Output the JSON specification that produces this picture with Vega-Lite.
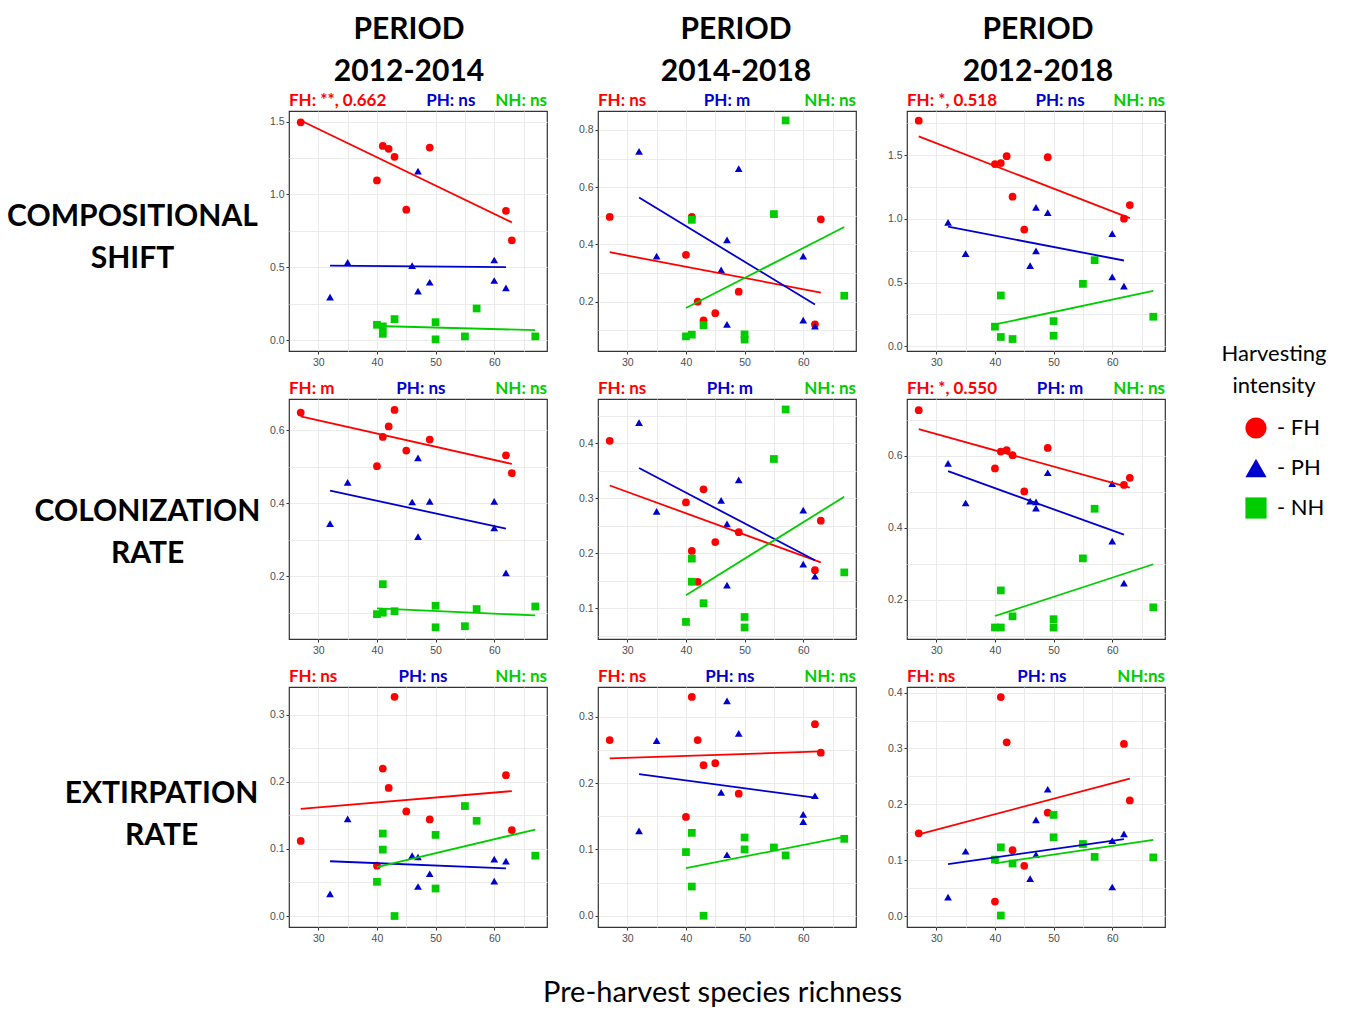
{
"$schema": "https://vega.github.io/schema/vega-lite/v6.json",
"padding": {"left": 5, "top": 14, "right": 5, "bottom": 5},
"bounds": "flush",
"columns": 3,
"spacing": {"row": 48, "column": 51},
"datasets": {
"pts": [
{"panel":"P11","grp":"FH","x":27,"y":1.495},{"panel":"P11","grp":"FH","x":40,"y":1.096},{"panel":"P11","grp":"FH","x":41,"y":1.333},{"panel":"P11","grp":"FH","x":42,"y":1.313},{"panel":"P11","grp":"FH","x":43,"y":1.258},{"panel":"P11","grp":"FH","x":45,"y":0.895},{"panel":"P11","grp":"FH","x":49,"y":1.322},{"panel":"P11","grp":"FH","x":62,"y":0.888},{"panel":"P11","grp":"FH","x":63,"y":0.685},
{"panel":"P11","grp":"PH","x":32,"y":0.295},{"panel":"P11","grp":"PH","x":35,"y":0.534},{"panel":"P11","grp":"PH","x":46,"y":0.511},{"panel":"P11","grp":"PH","x":47,"y":1.160},{"panel":"P11","grp":"PH","x":47,"y":0.336},{"panel":"P11","grp":"PH","x":49,"y":0.397},{"panel":"P11","grp":"PH","x":60,"y":0.550},{"panel":"P11","grp":"PH","x":60,"y":0.409},{"panel":"P11","grp":"PH","x":62,"y":0.358},
{"panel":"P11","grp":"NH","x":40,"y":0.105},{"panel":"P11","grp":"NH","x":41,"y":0.094},{"panel":"P11","grp":"NH","x":41,"y":0.043},{"panel":"P11","grp":"NH","x":43,"y":0.144},{"panel":"P11","grp":"NH","x":50,"y":0.123},{"panel":"P11","grp":"NH","x":50,"y":0.005},{"panel":"P11","grp":"NH","x":55,"y":0.025},{"panel":"P11","grp":"NH","x":57,"y":0.217},{"panel":"P11","grp":"NH","x":67,"y":0.025},
{"panel":"P12","grp":"FH","x":27,"y":0.496},{"panel":"P12","grp":"FH","x":40,"y":0.364},{"panel":"P12","grp":"FH","x":41,"y":0.496},{"panel":"P12","grp":"FH","x":42,"y":0.200},{"panel":"P12","grp":"FH","x":43,"y":0.135},{"panel":"P12","grp":"FH","x":45,"y":0.160},{"panel":"P12","grp":"FH","x":49,"y":0.235},{"panel":"P12","grp":"FH","x":62,"y":0.121},{"panel":"P12","grp":"FH","x":63,"y":0.488},
{"panel":"P12","grp":"PH","x":32,"y":0.725},{"panel":"P12","grp":"PH","x":35,"y":0.359},{"panel":"P12","grp":"PH","x":46,"y":0.311},{"panel":"P12","grp":"PH","x":47,"y":0.416},{"panel":"P12","grp":"PH","x":47,"y":0.121},{"panel":"P12","grp":"PH","x":49,"y":0.665},{"panel":"P12","grp":"PH","x":60,"y":0.359},{"panel":"P12","grp":"PH","x":60,"y":0.136},{"panel":"P12","grp":"PH","x":62,"y":0.115},
{"panel":"P12","grp":"NH","x":40,"y":0.079},{"panel":"P12","grp":"NH","x":41,"y":0.486},{"panel":"P12","grp":"NH","x":41,"y":0.085},{"panel":"P12","grp":"NH","x":43,"y":0.118},{"panel":"P12","grp":"NH","x":50,"y":0.086},{"panel":"P12","grp":"NH","x":50,"y":0.068},{"panel":"P12","grp":"NH","x":55,"y":0.506},{"panel":"P12","grp":"NH","x":57,"y":0.833},{"panel":"P12","grp":"NH","x":67,"y":0.221},
{"panel":"P13","grp":"FH","x":27,"y":1.771},{"panel":"P13","grp":"FH","x":40,"y":1.430},{"panel":"P13","grp":"FH","x":41,"y":1.438},{"panel":"P13","grp":"FH","x":42,"y":1.492},{"panel":"P13","grp":"FH","x":43,"y":1.174},{"panel":"P13","grp":"FH","x":45,"y":0.916},{"panel":"P13","grp":"FH","x":49,"y":1.484},{"panel":"P13","grp":"FH","x":62,"y":1.002},{"panel":"P13","grp":"FH","x":63,"y":1.109},
{"panel":"P13","grp":"PH","x":32,"y":0.973},{"panel":"P13","grp":"PH","x":35,"y":0.728},{"panel":"P13","grp":"PH","x":46,"y":0.634},{"panel":"P13","grp":"PH","x":47,"y":1.090},{"panel":"P13","grp":"PH","x":47,"y":0.749},{"panel":"P13","grp":"PH","x":49,"y":1.049},{"panel":"P13","grp":"PH","x":60,"y":0.884},{"panel":"P13","grp":"PH","x":60,"y":0.545},{"panel":"P13","grp":"PH","x":62,"y":0.472},
{"panel":"P13","grp":"NH","x":40,"y":0.154},{"panel":"P13","grp":"NH","x":41,"y":0.399},{"panel":"P13","grp":"NH","x":41,"y":0.073},{"panel":"P13","grp":"NH","x":43,"y":0.057},{"panel":"P13","grp":"NH","x":50,"y":0.198},{"panel":"P13","grp":"NH","x":50,"y":0.083},{"panel":"P13","grp":"NH","x":55,"y":0.490},{"panel":"P13","grp":"NH","x":57,"y":0.676},{"panel":"P13","grp":"NH","x":67,"y":0.232},
{"panel":"P21","grp":"FH","x":27,"y":0.648},{"panel":"P21","grp":"FH","x":40,"y":0.501},{"panel":"P21","grp":"FH","x":41,"y":0.581},{"panel":"P21","grp":"FH","x":42,"y":0.610},{"panel":"P21","grp":"FH","x":43,"y":0.655},{"panel":"P21","grp":"FH","x":45,"y":0.544},{"panel":"P21","grp":"FH","x":49,"y":0.574},{"panel":"P21","grp":"FH","x":62,"y":0.531},{"panel":"P21","grp":"FH","x":63,"y":0.482},
{"panel":"P21","grp":"PH","x":32,"y":0.344},{"panel":"P21","grp":"PH","x":35,"y":0.457},{"panel":"P21","grp":"PH","x":46,"y":0.403},{"panel":"P21","grp":"PH","x":47,"y":0.524},{"panel":"P21","grp":"PH","x":47,"y":0.308},{"panel":"P21","grp":"PH","x":49,"y":0.405},{"panel":"P21","grp":"PH","x":60,"y":0.405},{"panel":"P21","grp":"PH","x":60,"y":0.332},{"panel":"P21","grp":"PH","x":62,"y":0.209},
{"panel":"P21","grp":"NH","x":40,"y":0.096},{"panel":"P21","grp":"NH","x":41,"y":0.178},{"panel":"P21","grp":"NH","x":41,"y":0.100},{"panel":"P21","grp":"NH","x":43,"y":0.104},{"panel":"P21","grp":"NH","x":50,"y":0.119},{"panel":"P21","grp":"NH","x":50,"y":0.060},{"panel":"P21","grp":"NH","x":55,"y":0.063},{"panel":"P21","grp":"NH","x":57,"y":0.110},{"panel":"P21","grp":"NH","x":67,"y":0.117},
{"panel":"P22","grp":"FH","x":27,"y":0.404},{"panel":"P22","grp":"FH","x":40,"y":0.292},{"panel":"P22","grp":"FH","x":41,"y":0.204},{"panel":"P22","grp":"FH","x":42,"y":0.148},{"panel":"P22","grp":"FH","x":43,"y":0.316},{"panel":"P22","grp":"FH","x":45,"y":0.220},{"panel":"P22","grp":"FH","x":49,"y":0.238},{"panel":"P22","grp":"FH","x":62,"y":0.169},{"panel":"P22","grp":"FH","x":63,"y":0.259},
{"panel":"P22","grp":"PH","x":32,"y":0.437},{"panel":"P22","grp":"PH","x":35,"y":0.276},{"panel":"P22","grp":"PH","x":46,"y":0.296},{"panel":"P22","grp":"PH","x":47,"y":0.253},{"panel":"P22","grp":"PH","x":47,"y":0.142},{"panel":"P22","grp":"PH","x":49,"y":0.333},{"panel":"P22","grp":"PH","x":60,"y":0.278},{"panel":"P22","grp":"PH","x":60,"y":0.180},{"panel":"P22","grp":"PH","x":62,"y":0.158},
{"panel":"P22","grp":"NH","x":40,"y":0.075},{"panel":"P22","grp":"NH","x":41,"y":0.190},{"panel":"P22","grp":"NH","x":41,"y":0.148},{"panel":"P22","grp":"NH","x":43,"y":0.109},{"panel":"P22","grp":"NH","x":50,"y":0.084},{"panel":"P22","grp":"NH","x":50,"y":0.065},{"panel":"P22","grp":"NH","x":55,"y":0.371},{"panel":"P22","grp":"NH","x":57,"y":0.461},{"panel":"P22","grp":"NH","x":67,"y":0.165},
{"panel":"P23","grp":"FH","x":27,"y":0.727},{"panel":"P23","grp":"FH","x":40,"y":0.565},{"panel":"P23","grp":"FH","x":41,"y":0.612},{"panel":"P23","grp":"FH","x":42,"y":0.616},{"panel":"P23","grp":"FH","x":43,"y":0.602},{"panel":"P23","grp":"FH","x":45,"y":0.501},{"panel":"P23","grp":"FH","x":49,"y":0.622},{"panel":"P23","grp":"FH","x":62,"y":0.519},{"panel":"P23","grp":"FH","x":63,"y":0.539},
{"panel":"P23","grp":"PH","x":32,"y":0.579},{"panel":"P23","grp":"PH","x":35,"y":0.469},{"panel":"P23","grp":"PH","x":46,"y":0.474},{"panel":"P23","grp":"PH","x":47,"y":0.472},{"panel":"P23","grp":"PH","x":47,"y":0.455},{"panel":"P23","grp":"PH","x":49,"y":0.553},{"panel":"P23","grp":"PH","x":60,"y":0.523},{"panel":"P23","grp":"PH","x":60,"y":0.363},{"panel":"P23","grp":"PH","x":62,"y":0.246},
{"panel":"P23","grp":"NH","x":40,"y":0.123},{"panel":"P23","grp":"NH","x":41,"y":0.226},{"panel":"P23","grp":"NH","x":41,"y":0.123},{"panel":"P23","grp":"NH","x":43,"y":0.154},{"panel":"P23","grp":"NH","x":50,"y":0.146},{"panel":"P23","grp":"NH","x":50,"y":0.123},{"panel":"P23","grp":"NH","x":55,"y":0.315},{"panel":"P23","grp":"NH","x":57,"y":0.453},{"panel":"P23","grp":"NH","x":67,"y":0.179},
{"panel":"P31","grp":"FH","x":27,"y":0.112},{"panel":"P31","grp":"FH","x":40,"y":0.075},{"panel":"P31","grp":"FH","x":41,"y":0.220},{"panel":"P31","grp":"FH","x":42,"y":0.191},{"panel":"P31","grp":"FH","x":43,"y":0.327},{"panel":"P31","grp":"FH","x":45,"y":0.156},{"panel":"P31","grp":"FH","x":49,"y":0.144},{"panel":"P31","grp":"FH","x":62,"y":0.210},{"panel":"P31","grp":"FH","x":63,"y":0.128},
{"panel":"P31","grp":"PH","x":32,"y":0.033},{"panel":"P31","grp":"PH","x":35,"y":0.145},{"panel":"P31","grp":"PH","x":46,"y":0.090},{"panel":"P31","grp":"PH","x":47,"y":0.088},{"panel":"P31","grp":"PH","x":47,"y":0.044},{"panel":"P31","grp":"PH","x":49,"y":0.063},{"panel":"P31","grp":"PH","x":60,"y":0.085},{"panel":"P31","grp":"PH","x":60,"y":0.052},{"panel":"P31","grp":"PH","x":62,"y":0.082},
{"panel":"P31","grp":"NH","x":40,"y":0.051},{"panel":"P31","grp":"NH","x":41,"y":0.123},{"panel":"P31","grp":"NH","x":41,"y":0.099},{"panel":"P31","grp":"NH","x":43,"y":0.000},{"panel":"P31","grp":"NH","x":50,"y":0.121},{"panel":"P31","grp":"NH","x":50,"y":0.041},{"panel":"P31","grp":"NH","x":55,"y":0.164},{"panel":"P31","grp":"NH","x":57,"y":0.142},{"panel":"P31","grp":"NH","x":67,"y":0.090},
{"panel":"P32","grp":"FH","x":27,"y":0.265},{"panel":"P32","grp":"FH","x":40,"y":0.149},{"panel":"P32","grp":"FH","x":41,"y":0.330},{"panel":"P32","grp":"FH","x":42,"y":0.265},{"panel":"P32","grp":"FH","x":43,"y":0.227},{"panel":"P32","grp":"FH","x":45,"y":0.230},{"panel":"P32","grp":"FH","x":49,"y":0.184},{"panel":"P32","grp":"FH","x":62,"y":0.289},{"panel":"P32","grp":"FH","x":63,"y":0.246},
{"panel":"P32","grp":"PH","x":32,"y":0.128},{"panel":"P32","grp":"PH","x":35,"y":0.264},{"panel":"P32","grp":"PH","x":46,"y":0.186},{"panel":"P32","grp":"PH","x":47,"y":0.324},{"panel":"P32","grp":"PH","x":47,"y":0.092},{"panel":"P32","grp":"PH","x":49,"y":0.275},{"panel":"P32","grp":"PH","x":60,"y":0.153},{"panel":"P32","grp":"PH","x":60,"y":0.142},{"panel":"P32","grp":"PH","x":62,"y":0.181},
{"panel":"P32","grp":"NH","x":40,"y":0.096},{"panel":"P32","grp":"NH","x":41,"y":0.125},{"panel":"P32","grp":"NH","x":41,"y":0.044},{"panel":"P32","grp":"NH","x":43,"y":0.000},{"panel":"P32","grp":"NH","x":50,"y":0.118},{"panel":"P32","grp":"NH","x":50,"y":0.100},{"panel":"P32","grp":"NH","x":55,"y":0.103},{"panel":"P32","grp":"NH","x":57,"y":0.091},{"panel":"P32","grp":"NH","x":67,"y":0.116},
{"panel":"P33","grp":"FH","x":27,"y":0.148},{"panel":"P33","grp":"FH","x":40,"y":0.026},{"panel":"P33","grp":"FH","x":41,"y":0.392},{"panel":"P33","grp":"FH","x":42,"y":0.311},{"panel":"P33","grp":"FH","x":43,"y":0.118},{"panel":"P33","grp":"FH","x":45,"y":0.090},{"panel":"P33","grp":"FH","x":49,"y":0.185},{"panel":"P33","grp":"FH","x":62,"y":0.308},{"panel":"P33","grp":"FH","x":63,"y":0.207},
{"panel":"P33","grp":"PH","x":32,"y":0.034},{"panel":"P33","grp":"PH","x":35,"y":0.116},{"panel":"P33","grp":"PH","x":46,"y":0.067},{"panel":"P33","grp":"PH","x":47,"y":0.172},{"panel":"P33","grp":"PH","x":47,"y":0.110},{"panel":"P33","grp":"PH","x":49,"y":0.227},{"panel":"P33","grp":"PH","x":60,"y":0.135},{"panel":"P33","grp":"PH","x":60,"y":0.052},{"panel":"P33","grp":"PH","x":62,"y":0.147},
{"panel":"P33","grp":"NH","x":40,"y":0.101},{"panel":"P33","grp":"NH","x":41,"y":0.123},{"panel":"P33","grp":"NH","x":41,"y":0.001},{"panel":"P33","grp":"NH","x":43,"y":0.094},{"panel":"P33","grp":"NH","x":50,"y":0.181},{"panel":"P33","grp":"NH","x":50,"y":0.141},{"panel":"P33","grp":"NH","x":55,"y":0.129},{"panel":"P33","grp":"NH","x":57,"y":0.106},{"panel":"P33","grp":"NH","x":67,"y":0.105}
],
"notes": [
{"panel":"P11","grp":"FH","label":"FH: **, 0.662"},{"panel":"P11","grp":"PH","label":"PH: ns"},{"panel":"P11","grp":"NH","label":"NH: ns"},
{"panel":"P12","grp":"FH","label":"FH: ns"},{"panel":"P12","grp":"PH","label":"PH: m"},{"panel":"P12","grp":"NH","label":"NH: ns"},
{"panel":"P13","grp":"FH","label":"FH: *, 0.518"},{"panel":"P13","grp":"PH","label":"PH: ns"},{"panel":"P13","grp":"NH","label":"NH: ns"},
{"panel":"P21","grp":"FH","label":"FH: m"},{"panel":"P21","grp":"PH","label":"PH: ns"},{"panel":"P21","grp":"NH","label":"NH: ns"},
{"panel":"P22","grp":"FH","label":"FH: ns"},{"panel":"P22","grp":"PH","label":"PH: m"},{"panel":"P22","grp":"NH","label":"NH: ns"},
{"panel":"P23","grp":"FH","label":"FH: *, 0.550"},{"panel":"P23","grp":"PH","label":"PH: m"},{"panel":"P23","grp":"NH","label":"NH: ns"},
{"panel":"P31","grp":"FH","label":"FH: ns"},{"panel":"P31","grp":"PH","label":"PH: ns"},{"panel":"P31","grp":"NH","label":"NH: ns"},
{"panel":"P32","grp":"FH","label":"FH: ns"},{"panel":"P32","grp":"PH","label":"PH: ns"},{"panel":"P32","grp":"NH","label":"NH: ns"},
{"panel":"P33","grp":"FH","label":"FH: ns"},{"panel":"P33","grp":"PH","label":"PH: ns"},{"panel":"P33","grp":"NH","label":"NH:ns"}
]
},
"concat": [
{"width":258,"height":240,
 "title":{"text":["PERIOD","2012-2014"],"dx":-9},
 "resolve":{"axis":{"x":"independent","y":"independent"}},
 "layer":[
  {"data":{"name":"pts"},"transform":[{"filter":"datum.panel=='P11'"}],"mark":{"type":"point","filled":true,"opacity":1,"strokeWidth":0,"size":60},
   "encoding":{"x":{"field":"x","type":"quantitative","scale":{"domain":[25,69],"nice":false,"zero":false},"axis":{"values":[30,40,50,60],"title":null}},
    "y":{"field":"y","type":"quantitative","scale":{"domain":[-0.075,1.573],"nice":false,"zero":false},"axis":{"values":[0,0.5,1,1.5],"format":".1f","title":["COMPOSITIONAL","SHIFT"],"titleX":-157,"titleY":105}},
    "color":{"field":"grp","type":"nominal","title":["Harvesting","intensity"],"scale":{"domain":["FH","PH","NH"],"range":["#FF0000","#0000CD","#00CD00"]},"legend":{"orient":"none","legendX":933,"legendY":233,"direction":"vertical","labelExpr":"'- ' + datum.label"}},
    "shape":{"field":"grp","type":"nominal","title":["Harvesting","intensity"],"scale":{"domain":["FH","PH","NH"],"range":["circle","triangle-up","square"]},"legend":{"orient":"none","legendX":933,"legendY":233,"direction":"vertical","labelExpr":"'- ' + datum.label"}}}},
  {"data":{"name":"pts"},"transform":[{"filter":"datum.panel=='P11'"},{"regression":"y","on":"x","groupby":["grp"]}],"mark":{"type":"line","strokeWidth":1.8},
   "encoding":{"x":{"field":"x","type":"quantitative","axis":{"values":[35,45,55,65],"orient":"bottom","labels":false,"ticks":false,"grid":true,"title":null}},"y":{"field":"y","type":"quantitative","axis":{"values":[0.25,0.75,1.25],"orient":"left","labels":false,"ticks":false,"grid":true,"title":null}},"color":{"field":"grp","type":"nominal","legend":null}}},
  {"data":{"name":"notes"},"transform":[{"filter":"datum.panel=='P11' && datum.grp=='FH'"}],"mark":{"type":"text","align":"left","baseline":"alphabetic","dy":-5,"font":"Lato","fontSize":17,"fontWeight":"bold","color":"#FF0000"},"encoding":{"x":{"datum":25,"type":"quantitative","axis":null},"y":{"datum":1.573,"type":"quantitative","axis":null},"text":{"field":"label","type":"nominal"}}},
  {"data":{"name":"notes"},"transform":[{"filter":"datum.panel=='P11' && datum.grp=='PH'"}],"mark":{"type":"text","align":"center","baseline":"alphabetic","dy":-5,"font":"Lato","fontSize":17,"fontWeight":"bold","color":"#0000CD"},"encoding":{"x":{"datum":52.6,"type":"quantitative","axis":null},"y":{"datum":1.573,"type":"quantitative","axis":null},"text":{"field":"label","type":"nominal"}}},
  {"data":{"name":"notes"},"transform":[{"filter":"datum.panel=='P11' && datum.grp=='NH'"}],"mark":{"type":"text","align":"right","baseline":"alphabetic","dy":-5,"font":"Lato","fontSize":17,"fontWeight":"bold","color":"#00CD00"},"encoding":{"x":{"datum":69,"type":"quantitative","axis":null},"y":{"datum":1.573,"type":"quantitative","axis":null},"text":{"field":"label","type":"nominal"}}}
 ]},
{"width":258,"height":240,
 "title":{"text":["PERIOD","2014-2018"],"dx":9},
 "resolve":{"axis":{"x":"independent","y":"independent"}},
 "layer":[
  {"data":{"name":"pts"},"transform":[{"filter":"datum.panel=='P12'"}],"mark":{"type":"point","filled":true,"opacity":1,"strokeWidth":0,"size":60},
   "encoding":{"x":{"field":"x","type":"quantitative","scale":{"domain":[25,69],"nice":false,"zero":false},"axis":{"values":[30,40,50,60],"title":null}},
    "y":{"field":"y","type":"quantitative","scale":{"domain":[0.028,0.866],"nice":false,"zero":false},"axis":{"values":[0.2,0.4,0.6,0.8],"format":".1f","title":null}},
    "color":{"field":"grp","type":"nominal","title":["Harvesting","intensity"]},
    "shape":{"field":"grp","type":"nominal","title":["Harvesting","intensity"]}}},
  {"data":{"name":"pts"},"transform":[{"filter":"datum.panel=='P12'"},{"regression":"y","on":"x","groupby":["grp"]}],"mark":{"type":"line","strokeWidth":1.8},
   "encoding":{"x":{"field":"x","type":"quantitative","axis":{"values":[35,45,55,65],"orient":"bottom","labels":false,"ticks":false,"grid":true,"title":null}},"y":{"field":"y","type":"quantitative","axis":{"values":[0.1,0.3,0.5,0.7],"orient":"left","labels":false,"ticks":false,"grid":true,"title":null}},"color":{"field":"grp","type":"nominal","legend":null}}},
  {"data":{"name":"notes"},"transform":[{"filter":"datum.panel=='P12' && datum.grp=='FH'"}],"mark":{"type":"text","align":"left","baseline":"alphabetic","dy":-5,"font":"Lato","fontSize":17,"fontWeight":"bold","color":"#FF0000"},"encoding":{"x":{"datum":25,"type":"quantitative","axis":null},"y":{"datum":0.866,"type":"quantitative","axis":null},"text":{"field":"label","type":"nominal"}}},
  {"data":{"name":"notes"},"transform":[{"filter":"datum.panel=='P12' && datum.grp=='PH'"}],"mark":{"type":"text","align":"center","baseline":"alphabetic","dy":-5,"font":"Lato","fontSize":17,"fontWeight":"bold","color":"#0000CD"},"encoding":{"x":{"datum":47.0,"type":"quantitative","axis":null},"y":{"datum":0.866,"type":"quantitative","axis":null},"text":{"field":"label","type":"nominal"}}},
  {"data":{"name":"notes"},"transform":[{"filter":"datum.panel=='P12' && datum.grp=='NH'"}],"mark":{"type":"text","align":"right","baseline":"alphabetic","dy":-5,"font":"Lato","fontSize":17,"fontWeight":"bold","color":"#00CD00"},"encoding":{"x":{"datum":69,"type":"quantitative","axis":null},"y":{"datum":0.866,"type":"quantitative","axis":null},"text":{"field":"label","type":"nominal"}}}
 ]},
{"width":258,"height":240,
 "title":{"text":["PERIOD","2012-2018"],"dx":2},
 "resolve":{"axis":{"x":"independent","y":"independent"}},
 "layer":[
  {"data":{"name":"pts"},"transform":[{"filter":"datum.panel=='P13'"}],"mark":{"type":"point","filled":true,"opacity":1,"strokeWidth":0,"size":60},
   "encoding":{"x":{"field":"x","type":"quantitative","scale":{"domain":[25,69],"nice":false,"zero":false},"axis":{"values":[30,40,50,60],"title":null}},
    "y":{"field":"y","type":"quantitative","scale":{"domain":[-0.037,1.847],"nice":false,"zero":false},"axis":{"values":[0,0.5,1,1.5],"format":".1f","title":null}},
    "color":{"field":"grp","type":"nominal","title":["Harvesting","intensity"]},
    "shape":{"field":"grp","type":"nominal","title":["Harvesting","intensity"]}}},
  {"data":{"name":"pts"},"transform":[{"filter":"datum.panel=='P13'"},{"regression":"y","on":"x","groupby":["grp"]}],"mark":{"type":"line","strokeWidth":1.8},
   "encoding":{"x":{"field":"x","type":"quantitative","axis":{"values":[35,45,55,65],"orient":"bottom","labels":false,"ticks":false,"grid":true,"title":null}},"y":{"field":"y","type":"quantitative","axis":{"values":[0.25,0.75,1.25,1.75],"orient":"left","labels":false,"ticks":false,"grid":true,"title":null}},"color":{"field":"grp","type":"nominal","legend":null}}},
  {"data":{"name":"notes"},"transform":[{"filter":"datum.panel=='P13' && datum.grp=='FH'"}],"mark":{"type":"text","align":"left","baseline":"alphabetic","dy":-5,"font":"Lato","fontSize":17,"fontWeight":"bold","color":"#FF0000"},"encoding":{"x":{"datum":25,"type":"quantitative","axis":null},"y":{"datum":1.847,"type":"quantitative","axis":null},"text":{"field":"label","type":"nominal"}}},
  {"data":{"name":"notes"},"transform":[{"filter":"datum.panel=='P13' && datum.grp=='PH'"}],"mark":{"type":"text","align":"center","baseline":"alphabetic","dy":-5,"font":"Lato","fontSize":17,"fontWeight":"bold","color":"#0000CD"},"encoding":{"x":{"datum":51.1,"type":"quantitative","axis":null},"y":{"datum":1.847,"type":"quantitative","axis":null},"text":{"field":"label","type":"nominal"}}},
  {"data":{"name":"notes"},"transform":[{"filter":"datum.panel=='P13' && datum.grp=='NH'"}],"mark":{"type":"text","align":"right","baseline":"alphabetic","dy":-5,"font":"Lato","fontSize":17,"fontWeight":"bold","color":"#00CD00"},"encoding":{"x":{"datum":69,"type":"quantitative","axis":null},"y":{"datum":1.847,"type":"quantitative","axis":null},"text":{"field":"label","type":"nominal"}}}
 ]},
{"width":258,"height":240,
 "resolve":{"axis":{"x":"independent","y":"independent"}},
 "layer":[
  {"data":{"name":"pts"},"transform":[{"filter":"datum.panel=='P21'"}],"mark":{"type":"point","filled":true,"opacity":1,"strokeWidth":0,"size":60},
   "encoding":{"x":{"field":"x","type":"quantitative","scale":{"domain":[25,69],"nice":false,"zero":false},"axis":{"values":[30,40,50,60],"title":null}},
    "y":{"field":"y","type":"quantitative","scale":{"domain":[0.028,0.685],"nice":false,"zero":false},"axis":{"values":[0.2,0.4,0.6],"format":".1f","title":["COLONIZATION","RATE"],"titleX":-142,"titleY":112}},
    "color":{"field":"grp","type":"nominal","title":["Harvesting","intensity"]},
    "shape":{"field":"grp","type":"nominal","title":["Harvesting","intensity"]}}},
  {"data":{"name":"pts"},"transform":[{"filter":"datum.panel=='P21'"},{"regression":"y","on":"x","groupby":["grp"]}],"mark":{"type":"line","strokeWidth":1.8},
   "encoding":{"x":{"field":"x","type":"quantitative","axis":{"values":[35,45,55,65],"orient":"bottom","labels":false,"ticks":false,"grid":true,"title":null}},"y":{"field":"y","type":"quantitative","axis":{"values":[0.1,0.3,0.5],"orient":"left","labels":false,"ticks":false,"grid":true,"title":null}},"color":{"field":"grp","type":"nominal","legend":null}}},
  {"data":{"name":"notes"},"transform":[{"filter":"datum.panel=='P21' && datum.grp=='FH'"}],"mark":{"type":"text","align":"left","baseline":"alphabetic","dy":-5,"font":"Lato","fontSize":17,"fontWeight":"bold","color":"#FF0000"},"encoding":{"x":{"datum":25,"type":"quantitative","axis":null},"y":{"datum":0.685,"type":"quantitative","axis":null},"text":{"field":"label","type":"nominal"}}},
  {"data":{"name":"notes"},"transform":[{"filter":"datum.panel=='P21' && datum.grp=='PH'"}],"mark":{"type":"text","align":"center","baseline":"alphabetic","dy":-5,"font":"Lato","fontSize":17,"fontWeight":"bold","color":"#0000CD"},"encoding":{"x":{"datum":47.5,"type":"quantitative","axis":null},"y":{"datum":0.685,"type":"quantitative","axis":null},"text":{"field":"label","type":"nominal"}}},
  {"data":{"name":"notes"},"transform":[{"filter":"datum.panel=='P21' && datum.grp=='NH'"}],"mark":{"type":"text","align":"right","baseline":"alphabetic","dy":-5,"font":"Lato","fontSize":17,"fontWeight":"bold","color":"#00CD00"},"encoding":{"x":{"datum":69,"type":"quantitative","axis":null},"y":{"datum":0.685,"type":"quantitative","axis":null},"text":{"field":"label","type":"nominal"}}}
 ]},
{"width":258,"height":240,
 "resolve":{"axis":{"x":"independent","y":"independent"}},
 "layer":[
  {"data":{"name":"pts"},"transform":[{"filter":"datum.panel=='P22'"}],"mark":{"type":"point","filled":true,"opacity":1,"strokeWidth":0,"size":60},
   "encoding":{"x":{"field":"x","type":"quantitative","scale":{"domain":[25,69],"nice":false,"zero":false},"axis":{"values":[30,40,50,60],"title":null}},
    "y":{"field":"y","type":"quantitative","scale":{"domain":[0.044,0.480],"nice":false,"zero":false},"axis":{"values":[0.1,0.2,0.3,0.4],"format":".1f","title":null}},
    "color":{"field":"grp","type":"nominal","title":["Harvesting","intensity"]},
    "shape":{"field":"grp","type":"nominal","title":["Harvesting","intensity"]}}},
  {"data":{"name":"pts"},"transform":[{"filter":"datum.panel=='P22'"},{"regression":"y","on":"x","groupby":["grp"]}],"mark":{"type":"line","strokeWidth":1.8},
   "encoding":{"x":{"field":"x","type":"quantitative","axis":{"values":[35,45,55,65],"orient":"bottom","labels":false,"ticks":false,"grid":true,"title":null}},"y":{"field":"y","type":"quantitative","axis":{"values":[0.05,0.15,0.25,0.35,0.45],"orient":"left","labels":false,"ticks":false,"grid":true,"title":null}},"color":{"field":"grp","type":"nominal","legend":null}}},
  {"data":{"name":"notes"},"transform":[{"filter":"datum.panel=='P22' && datum.grp=='FH'"}],"mark":{"type":"text","align":"left","baseline":"alphabetic","dy":-5,"font":"Lato","fontSize":17,"fontWeight":"bold","color":"#FF0000"},"encoding":{"x":{"datum":25,"type":"quantitative","axis":null},"y":{"datum":0.480,"type":"quantitative","axis":null},"text":{"field":"label","type":"nominal"}}},
  {"data":{"name":"notes"},"transform":[{"filter":"datum.panel=='P22' && datum.grp=='PH'"}],"mark":{"type":"text","align":"center","baseline":"alphabetic","dy":-5,"font":"Lato","fontSize":17,"fontWeight":"bold","color":"#0000CD"},"encoding":{"x":{"datum":47.5,"type":"quantitative","axis":null},"y":{"datum":0.480,"type":"quantitative","axis":null},"text":{"field":"label","type":"nominal"}}},
  {"data":{"name":"notes"},"transform":[{"filter":"datum.panel=='P22' && datum.grp=='NH'"}],"mark":{"type":"text","align":"right","baseline":"alphabetic","dy":-5,"font":"Lato","fontSize":17,"fontWeight":"bold","color":"#00CD00"},"encoding":{"x":{"datum":69,"type":"quantitative","axis":null},"y":{"datum":0.480,"type":"quantitative","axis":null},"text":{"field":"label","type":"nominal"}}}
 ]},
{"width":258,"height":240,
 "resolve":{"axis":{"x":"independent","y":"independent"}},
 "layer":[
  {"data":{"name":"pts"},"transform":[{"filter":"datum.panel=='P23'"}],"mark":{"type":"point","filled":true,"opacity":1,"strokeWidth":0,"size":60},
   "encoding":{"x":{"field":"x","type":"quantitative","scale":{"domain":[25,69],"nice":false,"zero":false},"axis":{"values":[30,40,50,60],"title":null}},
    "y":{"field":"y","type":"quantitative","scale":{"domain":[0.091,0.758],"nice":false,"zero":false},"axis":{"values":[0.2,0.4,0.6],"format":".1f","title":null}},
    "color":{"field":"grp","type":"nominal","title":["Harvesting","intensity"]},
    "shape":{"field":"grp","type":"nominal","title":["Harvesting","intensity"]}}},
  {"data":{"name":"pts"},"transform":[{"filter":"datum.panel=='P23'"},{"regression":"y","on":"x","groupby":["grp"]}],"mark":{"type":"line","strokeWidth":1.8},
   "encoding":{"x":{"field":"x","type":"quantitative","axis":{"values":[35,45,55,65],"orient":"bottom","labels":false,"ticks":false,"grid":true,"title":null}},"y":{"field":"y","type":"quantitative","axis":{"values":[0.1,0.3,0.5,0.7],"orient":"left","labels":false,"ticks":false,"grid":true,"title":null}},"color":{"field":"grp","type":"nominal","legend":null}}},
  {"data":{"name":"notes"},"transform":[{"filter":"datum.panel=='P23' && datum.grp=='FH'"}],"mark":{"type":"text","align":"left","baseline":"alphabetic","dy":-5,"font":"Lato","fontSize":17,"fontWeight":"bold","color":"#FF0000"},"encoding":{"x":{"datum":25,"type":"quantitative","axis":null},"y":{"datum":0.758,"type":"quantitative","axis":null},"text":{"field":"label","type":"nominal"}}},
  {"data":{"name":"notes"},"transform":[{"filter":"datum.panel=='P23' && datum.grp=='PH'"}],"mark":{"type":"text","align":"center","baseline":"alphabetic","dy":-5,"font":"Lato","fontSize":17,"fontWeight":"bold","color":"#0000CD"},"encoding":{"x":{"datum":51.1,"type":"quantitative","axis":null},"y":{"datum":0.758,"type":"quantitative","axis":null},"text":{"field":"label","type":"nominal"}}},
  {"data":{"name":"notes"},"transform":[{"filter":"datum.panel=='P23' && datum.grp=='NH'"}],"mark":{"type":"text","align":"right","baseline":"alphabetic","dy":-5,"font":"Lato","fontSize":17,"fontWeight":"bold","color":"#00CD00"},"encoding":{"x":{"datum":69,"type":"quantitative","axis":null},"y":{"datum":0.758,"type":"quantitative","axis":null},"text":{"field":"label","type":"nominal"}}}
 ]},
{"width":258,"height":240,
 "resolve":{"axis":{"x":"independent","y":"independent"}},
 "layer":[
  {"data":{"name":"pts"},"transform":[{"filter":"datum.panel=='P31'"}],"mark":{"type":"point","filled":true,"opacity":1,"strokeWidth":0,"size":60},
   "encoding":{"x":{"field":"x","type":"quantitative","scale":{"domain":[25,69],"nice":false,"zero":false},"axis":{"values":[30,40,50,60],"title":null}},
    "y":{"field":"y","type":"quantitative","scale":{"domain":[-0.0164,0.3416],"nice":false,"zero":false},"axis":{"values":[0,0.1,0.2,0.3],"format":".1f","title":["EXTIRPATION","RATE"],"titleX":-128,"titleY":106}},
    "color":{"field":"grp","type":"nominal","title":["Harvesting","intensity"]},
    "shape":{"field":"grp","type":"nominal","title":["Harvesting","intensity"]}}},
  {"data":{"name":"pts"},"transform":[{"filter":"datum.panel=='P31'"},{"regression":"y","on":"x","groupby":["grp"]}],"mark":{"type":"line","strokeWidth":1.8},
   "encoding":{"x":{"field":"x","type":"quantitative","axis":{"values":[35,45,55,65],"orient":"bottom","labels":false,"ticks":false,"grid":true,"title":null}},"y":{"field":"y","type":"quantitative","axis":{"values":[0.05,0.15,0.25],"orient":"left","labels":false,"ticks":false,"grid":true,"title":null}},"color":{"field":"grp","type":"nominal","legend":null}}},
  {"data":{"name":"notes"},"transform":[{"filter":"datum.panel=='P31' && datum.grp=='FH'"}],"mark":{"type":"text","align":"left","baseline":"alphabetic","dy":-5,"font":"Lato","fontSize":17,"fontWeight":"bold","color":"#FF0000"},"encoding":{"x":{"datum":25,"type":"quantitative","axis":null},"y":{"datum":0.3416,"type":"quantitative","axis":null},"text":{"field":"label","type":"nominal"}}},
  {"data":{"name":"notes"},"transform":[{"filter":"datum.panel=='P31' && datum.grp=='PH'"}],"mark":{"type":"text","align":"center","baseline":"alphabetic","dy":-5,"font":"Lato","fontSize":17,"fontWeight":"bold","color":"#0000CD"},"encoding":{"x":{"datum":47.85,"type":"quantitative","axis":null},"y":{"datum":0.3416,"type":"quantitative","axis":null},"text":{"field":"label","type":"nominal"}}},
  {"data":{"name":"notes"},"transform":[{"filter":"datum.panel=='P31' && datum.grp=='NH'"}],"mark":{"type":"text","align":"right","baseline":"alphabetic","dy":-5,"font":"Lato","fontSize":17,"fontWeight":"bold","color":"#00CD00"},"encoding":{"x":{"datum":69,"type":"quantitative","axis":null},"y":{"datum":0.3416,"type":"quantitative","axis":null},"text":{"field":"label","type":"nominal"}}}
 ]},
{"width":258,"height":240,
 "resolve":{"axis":{"x":"independent","y":"independent"}},
 "layer":[
  {"data":{"name":"pts"},"transform":[{"filter":"datum.panel=='P32'"}],"mark":{"type":"point","filled":true,"opacity":1,"strokeWidth":0,"size":60},
   "encoding":{"x":{"field":"x","type":"quantitative","scale":{"domain":[25,69],"nice":false,"zero":false},"axis":{"values":[30,40,50,60],"title":"Pre-harvest species richness","titleX":124,"titleY":65,"titleAlign":"center","titleBaseline":"middle","titleFont":"Lato","titleFontSize":29,"titleFontWeight":"normal","titleColor":"#000000"}},
    "y":{"field":"y","type":"quantitative","scale":{"domain":[-0.017,0.345],"nice":false,"zero":false},"axis":{"values":[0,0.1,0.2,0.3],"format":".1f","title":null}},
    "color":{"field":"grp","type":"nominal","title":["Harvesting","intensity"]},
    "shape":{"field":"grp","type":"nominal","title":["Harvesting","intensity"]}}},
  {"data":{"name":"pts"},"transform":[{"filter":"datum.panel=='P32'"},{"regression":"y","on":"x","groupby":["grp"]}],"mark":{"type":"line","strokeWidth":1.8},
   "encoding":{"x":{"field":"x","type":"quantitative","axis":{"values":[35,45,55,65],"orient":"bottom","labels":false,"ticks":false,"grid":true,"title":null}},"y":{"field":"y","type":"quantitative","axis":{"values":[0.05,0.15,0.25],"orient":"left","labels":false,"ticks":false,"grid":true,"title":null}},"color":{"field":"grp","type":"nominal","legend":null}}},
  {"data":{"name":"notes"},"transform":[{"filter":"datum.panel=='P32' && datum.grp=='FH'"}],"mark":{"type":"text","align":"left","baseline":"alphabetic","dy":-5,"font":"Lato","fontSize":17,"fontWeight":"bold","color":"#FF0000"},"encoding":{"x":{"datum":25,"type":"quantitative","axis":null},"y":{"datum":0.345,"type":"quantitative","axis":null},"text":{"field":"label","type":"nominal"}}},
  {"data":{"name":"notes"},"transform":[{"filter":"datum.panel=='P32' && datum.grp=='PH'"}],"mark":{"type":"text","align":"center","baseline":"alphabetic","dy":-5,"font":"Lato","fontSize":17,"fontWeight":"bold","color":"#0000CD"},"encoding":{"x":{"datum":47.5,"type":"quantitative","axis":null},"y":{"datum":0.345,"type":"quantitative","axis":null},"text":{"field":"label","type":"nominal"}}},
  {"data":{"name":"notes"},"transform":[{"filter":"datum.panel=='P32' && datum.grp=='NH'"}],"mark":{"type":"text","align":"right","baseline":"alphabetic","dy":-5,"font":"Lato","fontSize":17,"fontWeight":"bold","color":"#00CD00"},"encoding":{"x":{"datum":69,"type":"quantitative","axis":null},"y":{"datum":0.345,"type":"quantitative","axis":null},"text":{"field":"label","type":"nominal"}}}
 ]},
{"width":258,"height":240,
 "resolve":{"axis":{"x":"independent","y":"independent"}},
 "layer":[
  {"data":{"name":"pts"},"transform":[{"filter":"datum.panel=='P33'"}],"mark":{"type":"point","filled":true,"opacity":1,"strokeWidth":0,"size":60},
   "encoding":{"x":{"field":"x","type":"quantitative","scale":{"domain":[25,69],"nice":false,"zero":false},"axis":{"values":[30,40,50,60],"title":null}},
    "y":{"field":"y","type":"quantitative","scale":{"domain":[-0.0196,0.410],"nice":false,"zero":false},"axis":{"values":[0,0.1,0.2,0.3,0.4],"format":".1f","title":null}},
    "color":{"field":"grp","type":"nominal","title":["Harvesting","intensity"]},
    "shape":{"field":"grp","type":"nominal","title":["Harvesting","intensity"]}}},
  {"data":{"name":"pts"},"transform":[{"filter":"datum.panel=='P33'"},{"regression":"y","on":"x","groupby":["grp"]}],"mark":{"type":"line","strokeWidth":1.8},
   "encoding":{"x":{"field":"x","type":"quantitative","axis":{"values":[35,45,55,65],"orient":"bottom","labels":false,"ticks":false,"grid":true,"title":null}},"y":{"field":"y","type":"quantitative","axis":{"values":[0.05,0.15,0.25,0.35],"orient":"left","labels":false,"ticks":false,"grid":true,"title":null}},"color":{"field":"grp","type":"nominal","legend":null}}},
  {"data":{"name":"notes"},"transform":[{"filter":"datum.panel=='P33' && datum.grp=='FH'"}],"mark":{"type":"text","align":"left","baseline":"alphabetic","dy":-5,"font":"Lato","fontSize":17,"fontWeight":"bold","color":"#FF0000"},"encoding":{"x":{"datum":25,"type":"quantitative","axis":null},"y":{"datum":0.410,"type":"quantitative","axis":null},"text":{"field":"label","type":"nominal"}}},
  {"data":{"name":"notes"},"transform":[{"filter":"datum.panel=='P33' && datum.grp=='PH'"}],"mark":{"type":"text","align":"center","baseline":"alphabetic","dy":-5,"font":"Lato","fontSize":17,"fontWeight":"bold","color":"#0000CD"},"encoding":{"x":{"datum":48.0,"type":"quantitative","axis":null},"y":{"datum":0.410,"type":"quantitative","axis":null},"text":{"field":"label","type":"nominal"}}},
  {"data":{"name":"notes"},"transform":[{"filter":"datum.panel=='P33' && datum.grp=='NH'"}],"mark":{"type":"text","align":"right","baseline":"alphabetic","dy":-5,"font":"Lato","fontSize":17,"fontWeight":"bold","color":"#00CD00"},"encoding":{"x":{"datum":69,"type":"quantitative","axis":null},"y":{"datum":0.410,"type":"quantitative","axis":null},"text":{"field":"label","type":"nominal"}}}
 ]}
],
"config": {
 "view": {"stroke": "#333333", "strokeWidth": 1.2},
 "axis": {"domain": false, "grid": true, "gridColor": "#EBEBEB", "gridWidth": 1, "tickColor": "#333333", "tickSize": 3, "tickWidth": 1, "labelFont": "Liberation Sans", "labelFontSize": 10.5, "labelColor": "#4D4D4D", "labelPadding": 2, "labelOverlap": false, "titleAngle": 0, "titleAlign": "center", "titleBaseline": "middle", "titleFont": "Lato", "titleFontSize": 30, "titleFontWeight": "bold", "titleColor": "#000000", "titleLineHeight": 42},
 "axisX": {"labelPadding": 3},
 "title": {"font": "Lato", "fontSize": 30, "fontWeight": "bold", "color": "#000000", "anchor": "middle", "frame": "group", "lineHeight": 42, "offset": 5},
 "legend": {"padding": 0, "symbolSize": 450, "symbolStrokeWidth": 0, "symbolOffset": 21, "labelFont": "Lato", "labelFontSize": 22, "labelColor": "#000000", "labelOffset": 10, "rowPadding": 18, "titleFont": "Lato", "titleFontSize": 22, "titleFontWeight": "normal", "titleColor": "#000000", "titleAlign": "center", "titleAnchor": "middle", "titleLineHeight": 32, "titlePadding": 19, "titleLimit": 400}
}
}
